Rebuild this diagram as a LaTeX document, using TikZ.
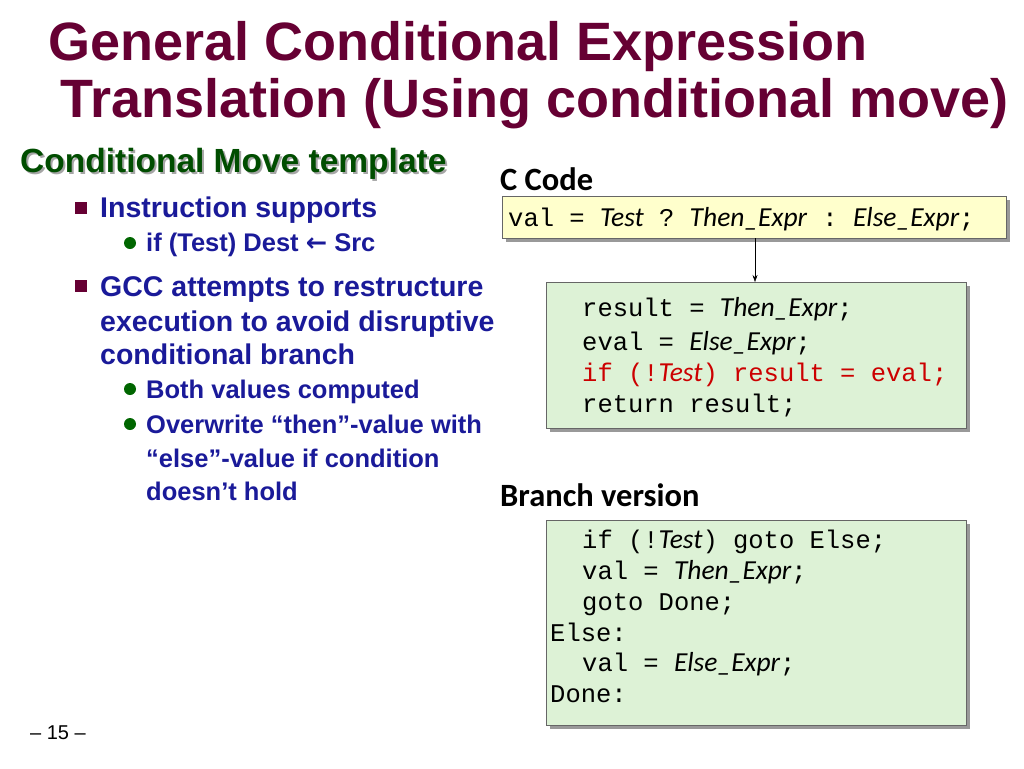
\documentclass[tikz,border=0pt]{standalone}
\usepackage{fontspec}
\setmainfont{Liberation Sans}
\setmonofont{Liberation Mono}
\newfontfamily\calfont{Carlito}
\usetikzlibrary{positioning, arrows.meta}
\definecolor{titlered}{HTML}{660033}
\definecolor{headgreen}{HTML}{004D00}
\definecolor{textblue}{HTML}{1A1A99}
\definecolor{dotgreen}{HTML}{006600}
\definecolor{codeyellow}{HTML}{FFFFCC}
\definecolor{codegreen}{HTML}{DDF2D6}
\definecolor{codered}{HTML}{CC0000}
\newcommand{\expr}[1]{{\calfont\itshape\fontsize{27.5}{30}\selectfont #1}}
\tikzset{
  every node/.style={inner sep=0pt, anchor=base west},
  codebox/.style={draw=black!60, line width=0.8pt},
  shadowbox/.style={fill=black!40, draw=none},
  codeline/.style={font=\ttfamily\fontsize{25.5}{28}\selectfont},
  lvlone/.style={font=\bfseries\fontsize{28.5}{30}\selectfont, text=textblue, align=left},
  lvltwo/.style={font=\bfseries\fontsize{25.5}{27}\selectfont, text=textblue, align=left},
  heading/.style={font=\calfont\bfseries\fontsize{32.5}{34}\selectfont}
}
\begin{document}
\begin{tikzpicture}[x=1pt, y=-1pt]
\useasboundingbox (0,0) rectangle (1024,768);
% title
\node[font=\bfseries\fontsize{54}{56}\selectfont, text=titlered] (title1) at (48,60) {General Conditional Expression};
\node[font=\bfseries\fontsize{54}{56}\selectfont, text=titlered] (title2) at (60,117) {Translation (Using conditional move)};
% left column
\node[font=\bfseries\fontsize{33.5}{35}\selectfont, text=black!35] (subsh) at (22,174) {Conditional Move template};
\node[font=\bfseries\fontsize{33.5}{35}\selectfont, text=headgreen] (subhead) at (20,172) {Conditional Move template};
\fill[titlered] (75,202) rectangle (87,214);
\node[lvlone] (sup) at (100,217) {Instruction supports};
\fill[dotgreen] (130,243) circle (6);
\node[lvltwo] (cmov) at (146,251) {if (Test) Dest {\fontspec{DejaVu Sans}\bfseries ←} Src};
\fill[titlered] (75,280) rectangle (87,292);
\node[lvlone] (gcc) at (100,296) {GCC attempts to restructure};
\node[lvlone] (gcc2) at (100,331) {execution to avoid disruptive};
\node[lvlone] (gcc3) at (100,364) {conditional branch};
\fill[dotgreen] (130,389) circle (6);
\node[lvltwo] (both) at (146,398) {Both values computed};
\fill[dotgreen] (130,424) circle (6);
\node[lvltwo] (over) at (146,433) {Overwrite “then”-value with};
\node[lvltwo] (over2) at (146,467) {“else”-value if condition};
\node[lvltwo] (over3) at (146,500) {doesn’t hold};
% C code
\node[heading] (ccode) at (500,190) {C Code};
\fill[shadowbox] (506,200) rectangle (1010,242);
\draw[codebox, fill=codeyellow] (502,196) rectangle (1006,238);
\node[codeline] (cline) at (508,226) {val = \expr{Test} ? \expr{Then\_Expr} : \expr{Else\_Expr};};
% conditional move version
\fill[shadowbox] (550,286) rectangle (970,432);
\draw[codebox, fill=codegreen] (546,282) rectangle (966,428);
\coordinate (ctop) at (755,238);
\coordinate (cbot) at (755,282);
\draw[-{Stealth[length=7pt,width=5pt]}, line width=0.5pt] (ctop) -- (cbot);
\node[codeline] (r1) at (582,316) {result = \expr{Then\_Expr};};
\node[codeline] (r2) at (582,350) {eval = \expr{Else\_Expr};};
\node[codeline, text=codered] (r3) at (582,381) {if (!\expr{Test}) result = eval;};
\node[codeline] (r4) at (582,412) {return result;};
% branch version
\node[heading] (branch) at (500,506) {Branch version};
\fill[shadowbox] (550,524) rectangle (970,729);
\draw[codebox, fill=codegreen] (546,520) rectangle (966,725);
\node[codeline] (b1) at (582,548) {if (!\expr{Test}) goto Else;};
\node[codeline] (b2) at (582,579) {val = \expr{Then\_Expr};};
\node[codeline] (b3) at (582,610) {goto Done;};
\node[codeline] (b4) at (550,641) {Else:};
\node[codeline] (b5) at (582,671) {val = \expr{Else\_Expr};};
\node[codeline] (b6) at (550,702) {Done:};
% page number
\node[font=\fontsize{20}{22}\selectfont] (page) at (30,739) {– 15 –};
\end{tikzpicture}
\end{document}
